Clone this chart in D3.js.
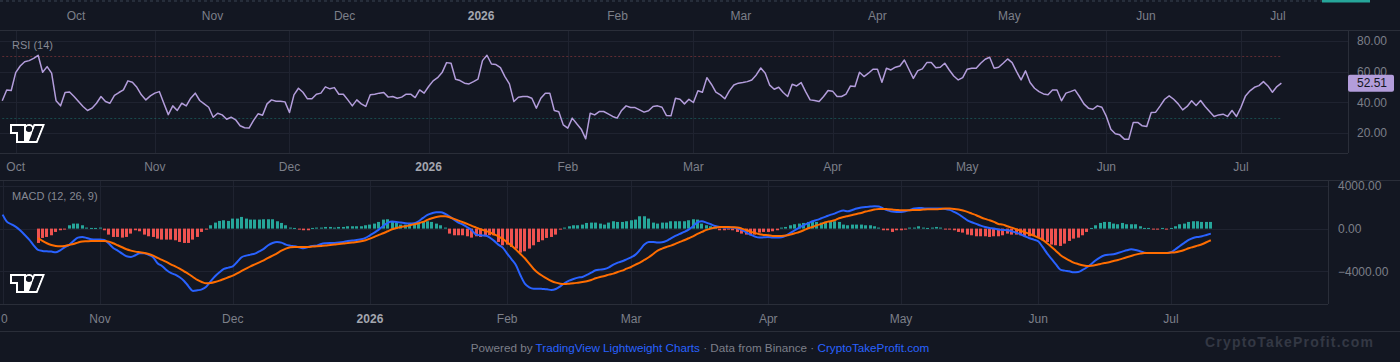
<!DOCTYPE html>
<html>
<head>
<meta charset="utf-8">
<script src="https://cdn.jsdelivr.net/npm/d3@7"></script>
<style>
  body { margin: 0; background: #131722; overflow: hidden; }
  svg { display: block; font-family: "Liberation Sans", Arial, sans-serif; }
</style>
</head>
<body>
<svg id="chart"></svg>
<script>
// ---- Data (daily candles) ----
const rsiStart = "2025-09-28";
const rsiValues = [
  41, 48, 47.7, 59.4, 63.7, 66.5, 67.2, 68.7, 70.7, 59.6,
  63.3, 59, 41, 37.7, 46.4, 46.8, 43.8, 40.5, 37.3, 34.7,
  36.2, 39.4, 43.8, 40.5, 39.4, 44.6, 46.4, 48.1, 54, 53.1,
  49.8, 44.9, 41.6, 44.2, 46, 47, 39.4, 32, 37.7, 34.7,
  39.4, 37.7, 42.7, 46, 41.2, 39, 36.8, 30.3, 32.9, 31.8,
  29, 30.3, 28.6, 24.7, 23.4, 23.2, 28.2, 32.5, 31.6, 39,
  41.6, 40.7, 40.7, 40.3, 33.4, 44.9, 49.2, 46.6, 42.3, 42.3,
  45.3, 46, 50.1, 48.8, 49.6, 45.3, 45.3, 41.6, 37.7, 41.6,
  39, 37.3, 44.9, 45.3, 46, 46.4, 43.4, 43.8, 42.7, 43.4,
  45.3, 45.3, 43.1, 48.1, 46, 50.3, 54, 56.1, 59.4, 65.9,
  65.5, 55.1, 54.2, 52.5, 52, 53.5, 55.1, 67.2, 70.7, 65,
  64.6, 62.6,
  56.8, 52, 40.5, 43.3, 43.8, 43.8, 42.7, 36.2, 42.7, 46,
  46, 34.7, 33.8, 25.3, 23.2, 29.7, 26, 22.5, 16.2, 32.9,
  31.8, 34, 34, 32.5, 30.8, 29.7, 34.7, 37.7, 36.6, 36.6,
  35.1, 33.6, 34.5, 37.3, 37.7, 36.8, 31.4, 31.2, 42.7, 42,
  39, 42, 39.9, 47.5, 46.6, 56.1, 51.8, 46.6, 44.9, 42.3,
  47.5, 51.3, 52.5, 52.9, 53.5, 54.6, 57.9, 62.4, 59, 51.2,
  48.5, 49.8, 46.4, 43.8, 51.8, 50.7, 52.9, 47, 41.6, 41.2,
  40.5, 43.8, 47.7, 47.3, 43.8, 43.8, 45.3, 50.7, 50.3, 59.6,
  56.8, 59, 61.6, 61.6, 53.1, 62.2, 61.1, 62.9, 63.7, 67.6,
  61.6, 55.6, 60.7, 61.8, 65.9, 65.9, 62.6, 62.9, 65.5, 61.1,
  57.2, 54.6, 56.1, 61.6, 62.2, 62.2, 65.5, 68.1, 69.4, 62.2,
  62.9,
  65.5, 68.3, 65.9, 60, 54.6, 60.5, 52.9, 49.2, 47, 45.5,
  44.9, 48.1, 48.1, 41, 46, 47, 48.1, 43.8, 39, 36.2,
  35.5, 37.7, 36.8, 30.8, 22.5, 19.5, 18.8, 16, 16, 26.9,
  26.9, 24.7, 24.3, 33.4, 33.6, 37.7, 42, 44.2, 42, 39,
  35.1, 37.3, 41, 37.9, 41.2, 37.3, 34, 30.8, 31.8, 32.3,
  30.8, 34.7, 30.8, 36.8, 44.2, 47.5, 49.8, 50.9, 53.5, 50.7,
  46.6, 50.3, 52.51
];

const macdStart = "2025-10-10";
const macdValues = [
  1313, 625, 406, 156, -188, -594, -1031, -1563, -2000, -2094,
  -2125, -2156, -2219, -2031, -1750, -1531, -1156, -844, -781, -875,
  -1000, -1031, -1031, -1063, -1406, -1813, -2063, -2344, -2594, -2656,
  -2500, -2313, -2313, -2469, -2688, -3250, -3500, -3875, -4156, -4313,
  -4563, -4906, -5406, -5844, -5781, -5688, -5438, -4938, -4469, -4094,
  -3781, -3656, -3531, -3125, -2688, -2531, -2438, -2344, -2125, -1906,
  -1563, -1344, -1250, -1313, -1500, -1594, -1656, -1750, -1844, -1719,
  -1625, -1594, -1438, -1375, -1344, -1344, -1313, -1250, -1156, -1125,
  -1063, -1000, -875, -625, -375, -94, 250, 531, 656, 625,
  563, 500, 469, 500, 688, 1000, 1281, 1438, 1531, 1531,
  1375, 1125, 844, 563, 375, 125, -156, -563, -625, -656,
  -813, -1125, -1500, -1781, -2344, -2875, -3438, -4375, -5156, -5500,
  -5625, -5625, -5656, -5688, -5750, -5656, -5406, -5094, -4875, -4719,
  -4594, -4531, -4344, -4125, -3906, -3844, -3781, -3625, -3375, -3188,
  -3063, -2875, -2688, -2438, -2000, -1500, -1250, -1250, -1313, -1281,
  -1156, -906, -688, -500, -313, -94, 219, 594, 688, 563,
  406, 250, 156, 94, 94, 94, 31, -125, -344, -563,
  -750, -844, -813, -781, -844, -844, -813, -656, -406, -156,
  94, 313, 500, 688, 813, 969, 1125, 1281, 1406, 1594,
  1688, 1625, 1750, 1875, 1969, 2031, 2063, 2094, 2063, 1875,
  1719, 1594, 1563, 1563, 1625, 1750, 1875, 1938, 1906, 1875,
  1875, 1875, 1875, 1844, 1750, 1563, 1344, 1063, 781, 594,
  438, 281, 156, 63, 0, -94, -125, -156, -250, -375,
  -531, -719, -906, -1031, -1188, -1719, -2313, -2844, -3344, -3844,
  -3938, -4000, -4094, -4063, -3875, -3625, -3313, -2969, -2688, -2500,
  -2438, -2406, -2281, -2156, -2031, -1938, -2000, -2125, -2250, -2281,
  -2281, -2281, -2281, -2281, -2219, -1938, -1625, -1344, -1063, -875,
  -781, -719, -594, -469
];

const signalStart = "2025-10-18";
const signalValues = [
  -875, -1156, -1375, -1531, -1625, -1656, -1625, -1531, -1438, -1313,
  -1219, -1188, -1156, -1156, -1156, -1156, -1219, -1375, -1563, -1750,
  -1938, -2063, -2156, -2219, -2281, -2375, -2531, -2750, -2938, -3125,
  -3344, -3531, -3750, -4000, -4250, -4531, -4813, -5000, -5125, -5094,
  -5000, -4875, -4719, -4563, -4406, -4188, -3969, -3750, -3531, -3344,
  -3156, -2969, -2750, -2531, -2313, -2063, -1875, -1750, -1719, -1719,
  -1719, -1719, -1688, -1656, -1625, -1594, -1531, -1500, -1438, -1406,
  -1344, -1313, -1250, -1188, -1094, -938, -781, -594, -438, -250,
  -63, 63, 156, 219, 313, 406, 500, 625, 813, 969,
  1094, 1156, 1156, 1063, 906, 750, 594, 438, 250, 94,
  -63, -188, -344, -531, -719, -969, -1281, -1594, -1969, -2375,
  -2781, -3281, -3781, -4156, -4438, -4688, -4906, -5063, -5156, -5188,
  -5156, -5125, -5063, -5000, -4938, -4813, -4656, -4531, -4438, -4313,
  -4219, -4063, -3938, -3750, -3594, -3375, -3188, -2938, -2688, -2375,
  -2063, -1875, -1719, -1594, -1438, -1250, -1094, -906, -719, -500,
  -313, -125, 0, 94, 156, 156, 156, 125, 94, 0,
  -125, -281, -406, -531, -594, -625, -688, -688, -688, -656,
  -563, -438, -313, -156, 31, 156, 313, 438, 594, 688,
  781, 969, 1094, 1188, 1281, 1375, 1469, 1594, 1688, 1781,
  1844, 1844, 1813, 1781, 1750, 1719, 1719, 1719, 1750, 1750,
  1781, 1813, 1813, 1813, 1844, 1875, 1875, 1844, 1781, 1688,
  1563, 1406, 1250, 1063, 906, 781, 625, 438, 375, 219,
  94, -63, -188, -344, -500, -656, -844, -1063, -1375, -1719,
  -2094, -2469, -2750, -2969, -3188, -3313, -3438, -3500, -3469, -3406,
  -3313, -3219, -3156, -3031, -2938, -2813, -2688, -2563, -2438, -2344,
  -2281, -2281, -2281, -2281, -2281, -2281, -2250, -2219, -2125, -2000,
  -1844, -1719, -1594, -1469, -1281, -1094
];

// histogram starts on the same day as the signal line
const histValues = [
  -1344, -875, -781, -625, -313, -156, -63, 313, 469, 469,
  313, 94, 63, 63, 94, -156, -563, -781, -781, -844,
  -781, -469, -156, -250, -563, -719, -781, -938, -1031, -1031,
  -1031, -1094, -1250, -1344, -1344, -1031, -781, -313, -94, 313,
  563, 719, 781, 719, 938, 938, 1094, 938, 844, 844,
  844, 875, 875, 875, 688, 531, 313, 94, 63, -63,
  -156, -156, 63, 94, 94, 156, 156, 94, 156, 156,
  219, 219, 219, 219, 313, 375, 469, 625, 844, 875,
  625, 563, 375, 375, 531, 375, 469, 625, 688, 625,
  469, 313, 94, -469, -625, -625, -625, -719, -844, -719,
  -781, -719, -625, -625,
  -1250, -1563, -1500, -1719, -1875, -2250, -2125, -1875, -1563, -1250,
  -1094, -875, -781, -563, -94, 94, 219, 313, 313, 375,
  531, 563, 563, 469, 375, 563, 688, 625, 625, 688,
  781, 844, 1156, 1156, 938, 563, 469, 563, 563, 688,
  688, 688, 688, 781, 875, 844, 469, 313, 219, 94,
  -156, -156, -63, -156, -313, -469, -563, -625, -563, -375,
  -313, -313, -250, -156, 94, 156, 313, 406, 469, 531,
  625, 625, 625, 563, 625, 688, 688, 625, 375, 313,
  375, 375, 375, 313, 313, 219, 94, -156, -156, -313,
  -156, -156, -94, 94, 94, 219, 94, 63, 94, 156,
  94, -94, -94, -156, -313, -375, -563, -625, -719, -719,
  -719, -781, -719, -719,
  -625, -469, -563, -563, -625, -719, -719, -625, -781, -1094,
  -1250, -1500, -1563, -1625, -1406, -1156, -938, -844, -625, -313,
  63, 313, 531, 625, 625, 469, 406, 531, 406, 406,
  406, 219, 63, 63, -94, -94, 63, -94, 63, 219,
  406, 469, 625, 688, 688, 625, 625, 625
];

const monthTicks = [
  { date: "2025-10-01", label: "Oct" },
  { date: "2025-11-01", label: "Nov" },
  { date: "2025-12-01", label: "Dec" },
  { date: "2026-01-01", label: "2026", bold: true },
  { date: "2026-02-01", label: "Feb" },
  { date: "2026-03-01", label: "Mar" },
  { date: "2026-04-01", label: "Apr" },
  { date: "2026-05-01", label: "May" },
  { date: "2026-06-01", label: "Jun" },
  { date: "2026-07-01", label: "Jul" }
];
// the MACD pane only shows the tail "0" of its first day label at the left edge
const macdEdgeTick = { date: "2025-10-10", label: "0" };

const rsiTicks = [80, 60, 40, 20];
const rsiBands = [70, 30];
const macdTicks = [4000, 0, -4000];
const rsiLast = 52.51;

// ---- Setup ----
const W = 1400, H = 362;
const parse = d3.utcParse("%Y-%m-%d");
const fmt = d3.format(".2f");

const C = {
  bg: "#131722", grid: "#1f2330", border: "#2a2e39", text: "#7c7f89",
  rsi: "#b39ddb", macd: "#2962ff", signal: "#ff6d00",
  up: "#26a69a", down: "#ef5350"
};

const toSeries = (start, vals) => vals.map((v, i) => ({ date: d3.utcDay.offset(parse(start), i), value: v }));
const rsi = toSeries(rsiStart, rsiValues);
const macd = toSeries(macdStart, macdValues);
const signal = toSeries(signalStart, signalValues);
const hist = toSeries(signalStart, histValues);
const ticks = monthTicks.map(t => ({ ...t, date: parse(t.date) }));

const svg = d3.select("#chart").attr("width", W).attr("height", H);
svg.append("rect").attr("width", W).attr("height", H).attr("fill", C.bg);

// ---- Top strip (bottom of the price chart above) ----
const topX = d3.scaleUtc().domain([parse("2025-10-01"), parse("2026-07-01")]).range([76, 1278]);
svg.append("line").attr("x1", 0).attr("x2", 1322).attr("y1", 1).attr("y2", 1)
  .attr("stroke", "#3b4552").attr("stroke-dasharray", "3,3");
svg.append("rect").attr("x", 1322).attr("y", 0).attr("width", 48).attr("height", 2.5).attr("fill", C.up);

function timeLabels(xScale, list, y) {
  svg.append("g").selectAll("text").data(list).enter().append("text")
    .attr("x", d => xScale(d.date)).attr("y", y)
    .attr("text-anchor", "middle")
    .attr("font-size", 12)
    .attr("font-weight", d => d.bold ? "bold" : "normal")
    .attr("fill", d => d.bold ? "#a3a6af" : C.text)
    .text(d => d.label);
}
timeLabels(topX, ticks, 20);

svg.append("line").attr("x1", 0).attr("x2", W).attr("y1", 30.5).attr("y2", 30.5).attr("stroke", C.border);

// TradingView attribution logo
function tvLogo(x, y) {
  const g = svg.append("g").attr("transform", `translate(${x},${y})`);
  g.append("path").attr("fill", "#ffffff").attr("fill-rule", "evenodd")
    .attr("d", "M2 0H0v10h6v9h21.4l.5-1.3 6-15 1-2.7H23.7l-.5 1.3-.2.6a5 5 0 0 0-7-.9V0H2Zm20 17h4l5.2-13 .8-2h-7l-1 2.5-.2.5-1.5 3.8-.3.7V17Zm-.8-10a3 3 0 0 0 .7-2.7A3 3 0 1 0 16.8 7h4.4ZM14 7V2H2v6h6v9h4V7h2Z");
  g.append("path").attr("fill", C.bg).attr("fill-rule", "evenodd")
    .attr("d", "M14 2H2v6h6v9h6V2Zm12 15h-7l6-15h7l-6 15Zm-7-9a3 3 0 1 0 0-6 3 3 0 0 0 0 6Z");
}

// ---- RSI pane ----
const rsiPane = { left: 0, right: 1348, top: 31, bottom: 153 };
const rsiX = d3.scaleUtc().domain([parse("2025-10-01"), parse("2026-07-01")]).range([15.7, 1241]);
const rsiY = d3.scaleLinear().domain([20, 80]).range([133, 41]);

svg.append("defs").append("clipPath").attr("id", "rsiClip").append("rect")
  .attr("x", rsiPane.left).attr("y", rsiPane.top)
  .attr("width", rsiPane.right - rsiPane.left).attr("height", rsiPane.bottom - rsiPane.top);

const rsiG = svg.append("g").attr("clip-path", "url(#rsiClip)");
rsiG.selectAll(".hg").data(rsiTicks).enter().append("line")
  .attr("x1", 0).attr("x2", rsiPane.right)
  .attr("y1", d => Math.round(rsiY(d)) + 0.5).attr("y2", d => Math.round(rsiY(d)) + 0.5)
  .attr("stroke", C.grid);
rsiG.selectAll(".vg").data(ticks).enter().append("line")
  .attr("x1", d => Math.round(rsiX(d.date)) + 0.5).attr("x2", d => Math.round(rsiX(d.date)) + 0.5)
  .attr("y1", rsiPane.top).attr("y2", rsiPane.bottom)
  .attr("stroke", C.grid);

const bandExtent = d3.extent(rsi, d => d.date);
rsiG.selectAll(".band").data(rsiBands).enter().append("line")
  .attr("x1", rsiX(bandExtent[0])).attr("x2", rsiX(bandExtent[1]))
  .attr("y1", d => Math.round(rsiY(d)) + 0.5).attr("y2", d => Math.round(rsiY(d)) + 0.5)
  .attr("stroke", d => d > 50 ? "rgba(239,83,80,0.35)" : "rgba(38,166,154,0.35)")
  .attr("stroke-dasharray", "2,2");

rsiG.append("path").datum(rsi)
  .attr("fill", "none").attr("stroke", C.rsi).attr("stroke-width", 1.5)
  .attr("stroke-linejoin", "round")
  .attr("d", d3.line().x(d => rsiX(d.date)).y(d => rsiY(d.value)));

svg.append("text").attr("x", 12).attr("y", 49).attr("font-size", 11).attr("fill", "#868993").text("RSI (14)");
tvLogo(10, 124);

svg.append("line").attr("x1", rsiPane.right + 0.5).attr("x2", rsiPane.right + 0.5)
  .attr("y1", rsiPane.top).attr("y2", rsiPane.bottom).attr("stroke", C.border);
svg.append("line").attr("x1", 0).attr("x2", rsiPane.right).attr("y1", rsiPane.bottom + 0.5).attr("y2", rsiPane.bottom + 0.5)
  .attr("stroke", C.border);

svg.append("g").selectAll("text").data(rsiTicks).enter().append("text")
  .attr("x", 1357).attr("y", d => rsiY(d)).attr("dy", "0.35em")
  .attr("font-size", 12).attr("fill", C.text).text(d => fmt(d));

svg.append("rect").attr("x", 1348).attr("y", rsiY(rsiLast) - 8.5).attr("width", 46).attr("height", 17)
  .attr("rx", 2).attr("fill", C.rsi);
svg.append("text").attr("x", 1357).attr("y", rsiY(rsiLast)).attr("dy", "0.35em")
  .attr("font-size", 12).attr("fill", "#131722").text(fmt(rsiLast));

timeLabels(rsiX, ticks, 171);

svg.append("line").attr("x1", 0).attr("x2", W).attr("y1", 180.5).attr("y2", 180.5).attr("stroke", C.border);

// ---- MACD pane ----
const macdPane = { left: 0, right: 1328, top: 181, bottom: 304 };
const macdX = d3.scaleUtc().domain([parse("2025-11-01"), parse("2026-07-01")]).range([100, 1171]);
const macdY = d3.scaleLinear().domain([-4000, 4000]).range([271.3, 185.9]);
const monthInPane = ticks.filter(t => macdX(t.date) > 0);

svg.select("defs").append("clipPath").attr("id", "macdClip").append("rect")
  .attr("x", macdPane.left).attr("y", macdPane.top)
  .attr("width", macdPane.right - macdPane.left).attr("height", macdPane.bottom - macdPane.top);

const macdG = svg.append("g").attr("clip-path", "url(#macdClip)");
macdG.selectAll(".hg").data(macdTicks).enter().append("line")
  .attr("x1", 0).attr("x2", macdPane.right)
  .attr("y1", d => Math.round(macdY(d)) + 0.5).attr("y2", d => Math.round(macdY(d)) + 0.5)
  .attr("stroke", C.grid);
macdG.selectAll(".vg").data([{ date: parse(macdEdgeTick.date) }].concat(monthInPane)).enter().append("line")
  .attr("x1", d => Math.round(macdX(d.date)) + 0.5).attr("x2", d => Math.round(macdX(d.date)) + 0.5)
  .attr("y1", macdPane.top).attr("y2", macdPane.bottom)
  .attr("stroke", C.grid);

const barW = 3;
macdG.selectAll(".bar").data(hist).enter().append("rect")
  .attr("x", d => Math.round(macdX(d.date) - barW / 2))
  .attr("y", d => Math.min(macdY(d.value), macdY(0)))
  .attr("width", barW)
  .attr("height", d => Math.max(1, Math.abs(macdY(d.value) - macdY(0))))
  .attr("fill", d => d.value >= 0 ? C.up : C.down);

const macdLine = d3.line().x(d => macdX(d.date)).y(d => macdY(d.value)).curve(d3.curveMonotoneX);
macdG.append("path").datum(macd)
  .attr("fill", "none").attr("stroke", C.macd).attr("stroke-width", 2).attr("d", macdLine);
macdG.append("path").datum(signal)
  .attr("fill", "none").attr("stroke", C.signal).attr("stroke-width", 2).attr("d", macdLine);

svg.append("text").attr("x", 12).attr("y", 200).attr("font-size", 11).attr("fill", "#868993").text("MACD (12, 26, 9)");
tvLogo(10, 274);

svg.append("line").attr("x1", macdPane.right + 0.5).attr("x2", macdPane.right + 0.5)
  .attr("y1", macdPane.top).attr("y2", macdPane.bottom).attr("stroke", C.border);
svg.append("line").attr("x1", 0).attr("x2", macdPane.right).attr("y1", macdPane.bottom + 0.5).attr("y2", macdPane.bottom + 0.5)
  .attr("stroke", C.border);

svg.append("g").selectAll("text").data(macdTicks).enter().append("text")
  .attr("x", 1338).attr("y", d => macdY(d)).attr("dy", "0.35em")
  .attr("font-size", 12).attr("fill", C.text).text(d => fmt(d));

timeLabels(macdX, monthInPane, 323);
svg.append("text").attr("x", 1).attr("y", 323).attr("font-size", 12).attr("fill", C.text).text(macdEdgeTick.label);

svg.append("line").attr("x1", 0).attr("x2", W).attr("y1", 331.5).attr("y2", 331.5).attr("stroke", C.border);

// ---- Footer ----
const foot = svg.append("text").attr("x", 700).attr("y", 352).attr("text-anchor", "middle")
  .attr("font-size", 11.7).attr("fill", C.text);
foot.append("tspan").text("Powered by ");
foot.append("tspan").attr("fill", "#2962ff").text("TradingView Lightweight Charts");
foot.append("tspan").text(" · Data from Binance · ");
foot.append("tspan").attr("fill", "#2962ff").text("CryptoTakeProfit.com");

svg.append("text").attr("x", 1205).attr("y", 347).attr("font-size", 14).attr("font-weight", "bold")
  .attr("letter-spacing", 1.2).attr("fill", "#333844").text("CryptoTakeProfit.com");
</script>
</body>
</html>
